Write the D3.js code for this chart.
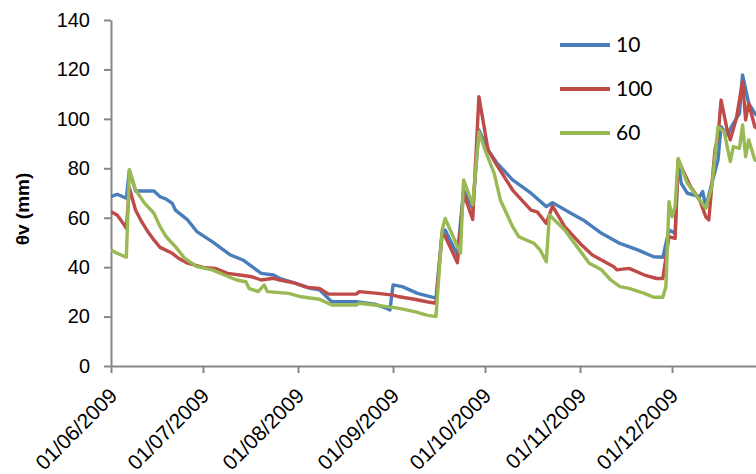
<!DOCTYPE html>
<html>
<head>
<meta charset="utf-8">
<script src="https://cdn.jsdelivr.net/npm/d3@7/dist/d3.min.js"></script>
<style>
  html, body { margin: 0; padding: 0; background: #fff; }
  svg { display: block; }
</style>
</head>
<body>
<svg id="chart" width="756" height="474"></svg>
<script>
// Soil water content θv (mm) at three depths, June–December 2009

const depthLabels = ["10", "100", "60"];

const seriesColors = ["#4a7ebb", "#be4b48", "#98b954"];

const yTicks = [0, 20, 40, 60, 80, 100, 120, 140];

const monthTicks = ["2009-06-01", "2009-07-01", "2009-08-01", "2009-09-01",
                    "2009-10-01", "2009-11-01", "2009-12-01"];

// depth 10
const depth10 = [
  ["2009-06-01", 68.5], ["2009-06-03", 69.5], ["2009-06-06", 67.9], ["2009-06-07", 79.3],
  ["2009-06-09", 70.8], ["2009-06-15", 70.8], ["2009-06-17", 68.5], ["2009-06-19", 67.5],
  ["2009-06-21", 65.8], ["2009-06-22", 63.1], ["2009-06-26", 59.1], ["2009-06-29", 54.4],
  ["2009-07-04", 50.3], ["2009-07-07", 47.6], ["2009-07-10", 44.9], ["2009-07-14", 42.9],
  ["2009-07-17", 40.2], ["2009-07-20", 37.5], ["2009-07-24", 36.8], ["2009-07-26", 35.5],
  ["2009-07-31", 33.5], ["2009-08-05", 31.4], ["2009-08-08", 30.8], ["2009-08-12", 26.0],
  ["2009-08-20", 26.0], ["2009-08-26", 25.0], ["2009-08-30", 23.3], ["2009-08-31", 22.7],
  ["2009-09-01", 32.8], ["2009-09-04", 32.1], ["2009-09-09", 29.4], ["2009-09-14", 27.8],
  ["2009-09-15", 27.3], ["2009-09-17", 53.7], ["2009-09-18", 55.0], ["2009-09-22", 44.9],
  ["2009-09-24", 71.0], ["2009-09-27", 63.8], ["2009-09-29", 95.5], ["2009-10-02", 87.4],
  ["2009-10-05", 82.0], ["2009-10-10", 75.3], ["2009-10-16", 69.9], ["2009-10-21", 64.5],
  ["2009-10-23", 66.1], ["2009-10-29", 61.8], ["2009-11-02", 59.1], ["2009-11-08", 53.7],
  ["2009-11-14", 49.6], ["2009-11-20", 46.9], ["2009-11-25", 44.2], ["2009-11-28", 44.0],
  ["2009-11-30", 55.0], ["2009-12-02", 53.7], ["2009-12-03", 83.4], ["2009-12-04", 73.9],
  ["2009-12-06", 69.9], ["2009-12-10", 68.5], ["2009-12-11", 70.6], ["2009-12-12", 64.5],
  ["2009-12-16", 83.4], ["2009-12-17", 96.8], ["2009-12-19", 93.5], ["2009-12-21", 98.2],
  ["2009-12-23", 102.2], ["2009-12-24", 117.8], ["2009-12-26", 106.3], ["2009-12-28", 102.2],
  ["2009-12-30", 100.0]
];

// depth 100
const depth100 = [
  ["2009-06-01", 62.4], ["2009-06-03", 61.1], ["2009-06-05", 57.7], ["2009-06-06", 55.7],
  ["2009-06-07", 72.0], ["2009-06-09", 63.1], ["2009-06-11", 58.4], ["2009-06-13", 54.4],
  ["2009-06-15", 51.0], ["2009-06-17", 48.0], ["2009-06-21", 45.6], ["2009-06-23", 43.6],
  ["2009-06-26", 41.6], ["2009-07-01", 39.9], ["2009-07-05", 39.5], ["2009-07-09", 37.5],
  ["2009-07-13", 36.8], ["2009-07-17", 36.1], ["2009-07-20", 34.8], ["2009-07-24", 35.5],
  ["2009-07-26", 34.8], ["2009-07-31", 33.5], ["2009-08-04", 31.8], ["2009-08-08", 31.4],
  ["2009-08-11", 29.1], ["2009-08-20", 29.1], ["2009-08-21", 30.1], ["2009-08-27", 29.4],
  ["2009-09-01", 28.7], ["2009-09-03", 28.0], ["2009-09-08", 27.0], ["2009-09-12", 26.0],
  ["2009-09-15", 25.4], ["2009-09-17", 53.7], ["2009-09-18", 52.5], ["2009-09-22", 41.8],
  ["2009-09-24", 69.9], ["2009-09-27", 59.3], ["2009-09-29", 109.0], ["2009-10-02", 87.4],
  ["2009-10-05", 81.0], ["2009-10-10", 71.2], ["2009-10-16", 63.1], ["2009-10-18", 62.4],
  ["2009-10-21", 57.7], ["2009-10-23", 64.7], ["2009-10-27", 56.4], ["2009-11-01", 49.6],
  ["2009-11-05", 44.9], ["2009-11-08", 42.9], ["2009-11-12", 40.2], ["2009-11-13", 38.9],
  ["2009-11-17", 39.5], ["2009-11-22", 36.8], ["2009-11-26", 35.4], ["2009-11-28", 35.4],
  ["2009-11-30", 52.3], ["2009-12-02", 51.6], ["2009-12-03", 83.4], ["2009-12-07", 72.6],
  ["2009-12-10", 67.2], ["2009-12-12", 60.4], ["2009-12-13", 59.1], ["2009-12-15", 87.4],
  ["2009-12-16", 92.8], ["2009-12-17", 107.6], ["2009-12-19", 95.5], ["2009-12-20", 91.5],
  ["2009-12-22", 100.2], ["2009-12-24", 115.1], ["2009-12-25", 99.6], ["2009-12-26", 106.3],
  ["2009-12-28", 96.8], ["2009-12-30", 95.0]
];

// depth 60
const depth60 = [
  ["2009-06-01", 46.9], ["2009-06-03", 45.6], ["2009-06-06", 44.0], ["2009-06-07", 79.3],
  ["2009-06-09", 71.2], ["2009-06-12", 65.8], ["2009-06-15", 61.8], ["2009-06-17", 56.4],
  ["2009-06-19", 52.3], ["2009-06-22", 48.3], ["2009-06-25", 43.6], ["2009-06-29", 40.2],
  ["2009-07-04", 38.9], ["2009-07-08", 36.8], ["2009-07-12", 34.8], ["2009-07-15", 34.1],
  ["2009-07-16", 31.4], ["2009-07-19", 30.1], ["2009-07-21", 32.8], ["2009-07-22", 30.1],
  ["2009-07-29", 29.4], ["2009-08-02", 28.0], ["2009-08-08", 27.0], ["2009-08-12", 24.7],
  ["2009-08-20", 24.7], ["2009-08-21", 25.4], ["2009-08-26", 24.7], ["2009-08-30", 24.0],
  ["2009-09-03", 23.3], ["2009-09-08", 22.0], ["2009-09-12", 20.6], ["2009-09-15", 20.0],
  ["2009-09-17", 55.0], ["2009-09-18", 59.7], ["2009-09-23", 45.6], ["2009-09-24", 75.3],
  ["2009-09-27", 65.2], ["2009-09-29", 94.8], ["2009-10-01", 87.4], ["2009-10-04", 77.9],
  ["2009-10-06", 67.2], ["2009-10-08", 61.8], ["2009-10-10", 56.4], ["2009-10-12", 52.3],
  ["2009-10-17", 49.6], ["2009-10-19", 46.9], ["2009-10-21", 42.2], ["2009-10-22", 61.1],
  ["2009-10-27", 55.0], ["2009-10-31", 48.3], ["2009-11-04", 41.6], ["2009-11-08", 38.9],
  ["2009-11-11", 34.8], ["2009-11-14", 32.1], ["2009-11-17", 31.4], ["2009-11-22", 29.4],
  ["2009-11-25", 27.8], ["2009-11-28", 27.8], ["2009-11-29", 32.1], ["2009-11-30", 66.5],
  ["2009-12-01", 60.4], ["2009-12-02", 64.5], ["2009-12-03", 84.0], ["2009-12-06", 73.9],
  ["2009-12-10", 67.2], ["2009-12-12", 63.8], ["2009-12-14", 72.6], ["2009-12-16", 96.8],
  ["2009-12-18", 94.8], ["2009-12-20", 82.7], ["2009-12-21", 88.8], ["2009-12-23", 88.1],
  ["2009-12-24", 97.5], ["2009-12-25", 84.7], ["2009-12-26", 91.5], ["2009-12-28", 83.4],
  ["2009-12-30", 82.0]
];

const allSeries = [depth10, depth100, depth60];

const parse = d3.timeParse("%Y-%m-%d");
const fmt = d3.timeFormat("%d/%m/%Y");

const svg = d3.select("#chart");
const W = 756, H = 474;
const plotLeft = 111, plotTop = 20, plotBottom = 366;

const x = d3.scaleTime()
  .domain([parse("2009-06-01"), parse("2009-12-31")])
  .range([plotLeft, 764]);

const y = d3.scaleLinear()
  .domain([0, 140])
  .range([plotBottom, plotTop]);

const axisColor = "#868686";

// clip so the series stop at the window edge
svg.append("defs").append("clipPath").attr("id", "plotClip")
  .append("rect").attr("x", plotLeft).attr("y", 0)
  .attr("width", W - plotLeft).attr("height", plotBottom);

// y axis
const yAxis = svg.append("g")
  .attr("transform", `translate(${plotLeft},0)`)
  .call(d3.axisLeft(y).tickValues(yTicks).tickSize(7).tickPadding(14).tickSizeOuter(0));
yAxis.select(".domain").attr("stroke", axisColor).attr("stroke-width", 2);
yAxis.selectAll(".tick line").attr("stroke", axisColor).attr("stroke-width", 2);
yAxis.selectAll(".tick text")
  .attr("fill", "#000")
  .style("font-family", "'Liberation Sans', Arial, sans-serif")
  .style("font-size", "20px");

// x axis
const xAxis = svg.append("g")
  .attr("transform", `translate(0,${plotBottom})`)
  .call(d3.axisBottom(x).tickValues(monthTicks.map(parse)).tickFormat(fmt)
        .tickSize(7).tickSizeOuter(0));
xAxis.select(".domain").attr("stroke", axisColor).attr("stroke-width", 2);
xAxis.selectAll(".tick line").attr("stroke", axisColor).attr("stroke-width", 2);
xAxis.selectAll(".tick text")
  .attr("fill", "#000")
  .style("font-family", "'Liberation Sans', Arial, sans-serif")
  .style("font-size", "21px")
  .attr("text-anchor", "end")
  .attr("dy", null)
  .attr("y", 0)
  .attr("transform", "translate(7,31) rotate(-45)");

// y axis title
svg.append("text")
  .attr("transform", "translate(29,209) rotate(-90)")
  .attr("text-anchor", "middle")
  .style("font-family", "'Liberation Sans', Arial, sans-serif")
  .style("font-size", "19px")
  .style("font-weight", "bold")
  .text("θv (mm)");

// series lines
const line = d3.line()
  .x(d => x(parse(d[0])))
  .y(d => y(d[1]));

const plot = svg.append("g").attr("clip-path", "url(#plotClip)");
allSeries.forEach((s, i) => {
  plot.append("path")
    .datum(s)
    .attr("fill", "none")
    .attr("stroke", seriesColors[i])
    .attr("stroke-width", 3.4)
    .attr("stroke-linejoin", "round")
    .attr("d", line);
});

// legend
const legend = svg.append("g");
depthLabels.forEach((lab, i) => {
  const ly = 45 + i * 44;
  legend.append("line")
    .attr("x1", 560).attr("x2", 610)
    .attr("y1", ly).attr("y2", ly)
    .attr("stroke", seriesColors[i])
    .attr("stroke-width", 4);
  legend.append("text")
    .attr("x", 616).attr("y", ly + 7)
    .style("font-family", "Lato, 'Open Sans', sans-serif")
    .style("font-size", "21px")
    .text(lab);
});
</script>
</body>
</html>
